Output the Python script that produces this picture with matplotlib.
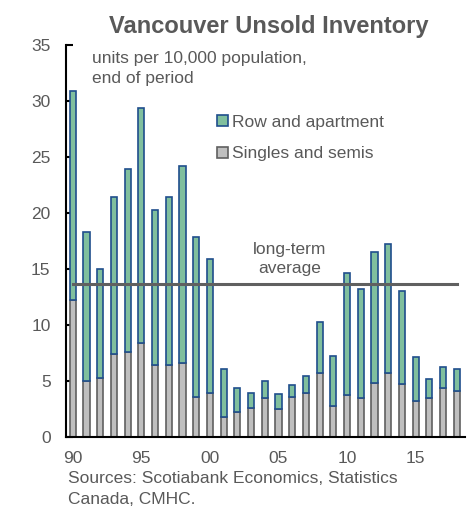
import numpy as np
import matplotlib
matplotlib.use("Agg")
import matplotlib.pyplot as plt
from matplotlib.patches import Patch

plt.rcParams["font.family"] = ["Liberation Sans", "DejaVu Sans"]

TEXT = "#595959"
FS = 12.5

years = np.arange(1990, 2019)
singles = [12.2, 5.0, 5.3, 7.4, 7.6, 8.4, 6.4, 6.4, 6.6, 3.6, 3.9, 1.8, 2.2, 2.6, 3.5,
           2.5, 3.6, 3.95, 5.7, 2.75, 3.7, 3.45, 4.8, 5.7, 4.7, 3.2, 3.5, 4.4, 4.1]
row_apt = [18.7, 13.3, 9.7, 14.0, 16.3, 21.0, 13.9, 15.0, 17.6, 14.3, 12.0, 4.3, 2.2, 1.3, 1.5,
           1.35, 1.0, 1.5, 4.55, 4.45, 10.9, 9.75, 11.75, 11.5, 8.3, 3.9, 1.65, 1.8, 2.0]
long_term_avg = 13.65
tick_years = [1990, 1995, 2000, 2005, 2010, 2015]
tick_labels = ["90", "95", "00", "05", "10", "15"]

fig = plt.figure(figsize=(4.74, 5.08), dpi=100)
ax = fig.add_axes([0.139, 0.14, 0.842, 0.771])

ax.bar(years, singles, width=0.45, color="#bfbfbf", edgecolor="#606060", linewidth=1.2, zorder=2)
ax.bar(years, row_apt, bottom=singles, width=0.45, color="#80bf9e", edgecolor="#1f4e8c",
       linewidth=1.2, zorder=2)
ax.plot([years[0], years[-1]], [long_term_avg, long_term_avg], color="#606060", lw=2.2, zorder=3)

ax.set_xlim(1989.5, 2018.6)
ax.set_ylim(0, 35)
ax.set_yticks(range(0, 36, 5))
ax.set_xticks(tick_years)
ax.set_xticklabels(tick_labels)
ax.tick_params(axis="y", direction="in", length=5, width=1.5, pad=11, labelsize=FS, labelcolor=TEXT)
ax.tick_params(axis="x", length=0, pad=10, labelsize=FS, labelcolor=TEXT)
for side in ["top", "right"]:
    ax.spines[side].set_visible(False)
for side in ["left", "bottom"]:
    ax.spines[side].set_linewidth(1.5)

fig.text(0.566, 1 - 26 / 508, "Vancouver Unsold Inventory", ha="center", va="center",
         fontsize=17, fontweight="bold", color=TEXT)
ax.text(0.065, 0.985, "units per 10,000 population,\nend of period", transform=ax.transAxes,
        ha="left", va="top", fontsize=FS, color=TEXT, linespacing=1.4)
ax.text(2005.8, 14.4, "long-term\naverage", ha="center", va="bottom", fontsize=FS,
        color=TEXT, linespacing=1.35)

handles = [Patch(facecolor="#80bf9e", edgecolor="#1f4e8c", linewidth=1.2, label="Row and apartment"),
           Patch(facecolor="#bfbfbf", edgecolor="#606060", linewidth=1.2, label="Singles and semis")]
ax.legend(handles=handles, loc="upper left", bbox_to_anchor=(0.362, 0.84), frameon=False,
          fontsize=FS, labelcolor=TEXT, handlelength=0.6, handleheight=0.6, handletextpad=0.25,
          labelspacing=0.95, borderaxespad=0)

fig.text(68 / 474, 1 - 489 / 508, "Sources: Scotiabank Economics, Statistics\nCanada, CMHC.",
         ha="left", va="center", fontsize=FS, color=TEXT, linespacing=1.45)

fig.savefig("out.png", dpi=100)
